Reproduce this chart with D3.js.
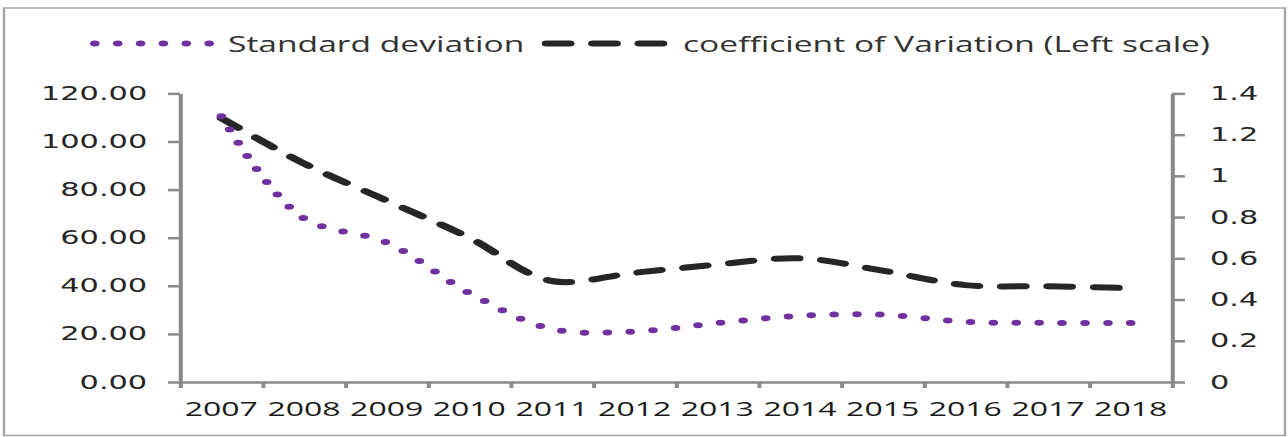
<!DOCTYPE html>
<html>
<head>
<meta charset="utf-8">
<script src="https://cdn.jsdelivr.net/npm/d3@7/dist/d3.min.js"></script>
<style>
  html, body { margin: 0; padding: 0; background: #fff; }
  svg { display: block; }
</style>
</head>
<body>
<svg id="chart"></svg>
<script>
// ---------- data ----------
const years = ["2007","2008","2009","2010","2011","2012","2013","2014","2015","2016","2017","2018"];
const stdDev = [110.5, 68, 58, 37, 22, 21, 24.5, 27.5, 28, 25, 24.6, 24.5];
const coefVar = [1.28, 1.06, 0.88, 0.70, 0.49, 0.53, 0.57, 0.60, 0.54, 0.47, 0.465, 0.455];
const leftTicks = [0, 20, 40, 60, 80, 100, 120];
const rightTicks = [0, 0.2, 0.4, 0.6, 0.8, 1, 1.2, 1.4];
const legendLabels = ["Standard deviation", "coefficient of Variation (Left scale)"];

// ---------- layout (native units; picture is stretched horizontally) ----------
const STRETCH = 1.6;
const OUT_W = 1288, OUT_H = 437;
const W = OUT_W / STRETCH, H = OUT_H;

const svg = d3.select("#chart")
  .attr("width", OUT_W).attr("height", OUT_H)
  .attr("viewBox", `0 0 ${W} ${H}`)
  .attr("preserveAspectRatio", "none");

const plot = { left: 180 / STRETCH, right: 1172 / STRETCH, top: 93.4, bottom: 382 };
const axisColor = "#898989";
const textColor = "#262626";

// border
svg.append("rect")
  .attr("x", 2.5).attr("y", 8)
  .attr("width", 1285 / STRETCH - 2.5).attr("height", 427.5)
  .attr("fill", "none").attr("stroke", "#a6a6a6").attr("stroke-width", 1.5);

// scales
const x = d3.scaleBand().domain(years).range([plot.left, plot.right]).padding(0);
const xEdge = d3.scaleLinear().domain([0, years.length]).range([plot.left, plot.right]);
const yL = d3.scaleLinear().domain([0, 120]).range([plot.bottom, plot.top]);
const yR = d3.scaleLinear().domain([0, 1.4]).range([plot.bottom, plot.top]);

function styleAxis(g, font, size) {
  g.selectAll("path, line").attr("stroke", axisColor).attr("stroke-width", 2.5);
  g.selectAll("text").attr("fill", textColor)
    .style("font-family", font).style("font-size", size + "px");
}

// left axis
const gL = svg.append("g").attr("transform", `translate(${plot.left},0)`)
  .call(d3.axisLeft(yL).tickValues(leftTicks).tickFormat(d3.format(".2f"))
    .tickSize(7.5).tickSizeOuter(0).tickPadding(13));
styleAxis(gL, "'DejaVu Sans', Verdana, sans-serif", 19);

// right axis
const gR = svg.append("g").attr("transform", `translate(${plot.right},0)`)
  .call(d3.axisRight(yR).tickValues(rightTicks).tickFormat(d => String(+d.toFixed(1)))
    .tickSize(8.1).tickSizeOuter(0).tickPadding(15.6));
styleAxis(gR, "'DejaVu Sans', Verdana, sans-serif", 19);

// x axis: tick marks at category boundaries
const gXT = svg.append("g").attr("transform", `translate(0,${plot.bottom})`)
  .call(d3.axisBottom(xEdge).tickValues(d3.range(years.length + 1)).tickFormat("")
    .tickSize(6).tickSizeOuter(0));
styleAxis(gXT, "'Open Sans', sans-serif", 20);

// x axis labels at category centres
const gX = svg.append("g").attr("transform", `translate(0,${plot.bottom})`)
  .call(d3.axisBottom(x).tickSize(0).tickPadding(20));
gX.select(".domain").remove();
styleAxis(gX, "'Open Sans', sans-serif", 20);
gX.selectAll("text").attr("fill", "#1a1a1a");

// lines
const cx = d => x(d) + x.bandwidth() / 2;
const curve = d3.curveCatmullRom.alpha(0.5);

const cvLine = d3.line().x((d, i) => cx(years[i])).y(d => yR(d)).curve(curve);
const sdLine = d3.line().x((d, i) => cx(years[i])).y(d => yL(d)).curve(curve);

const dashStyle = { color: "#262626", width: 6, dash: "14.5 14.5" };
const dotStyle = { color: "#7030A0", width: 6, dash: "0 14.3" };

svg.append("path").datum(coefVar)
  .attr("d", cvLine).attr("fill", "none")
  .attr("stroke", dashStyle.color).attr("stroke-width", dashStyle.width)
  .attr("stroke-linecap", "round").attr("stroke-dasharray", dashStyle.dash);

svg.append("path").datum(stdDev)
  .attr("d", sdLine).attr("fill", "none")
  .attr("stroke", dotStyle.color).attr("stroke-width", dotStyle.width)
  .attr("stroke-linecap", "round").attr("stroke-dasharray", dotStyle.dash);

// legend
const legY = 43.5;
const legend = [
  { label: legendLabels[0], style: dotStyle, x0: 90 / STRETCH, x1: 210 / STRETCH, tx: 228 / STRETCH },
  { label: legendLabels[1], style: dashStyle, x0: 541.7 / STRETCH, x1: 670 / STRETCH, tx: 683 / STRETCH }
];
legend.forEach(l => {
  svg.append("path")
    .attr("d", d3.line()([[l.x0 + l.style.width / 2, legY], [l.x1, legY]]))
    .attr("fill", "none")
    .attr("stroke", l.style.color).attr("stroke-width", l.style.width)
    .attr("stroke-linecap", "round").attr("stroke-dasharray", l.style.dash);
  svg.append("text")
    .attr("x", l.tx).attr("y", 51.7)
    .attr("fill", "#333")
    .style("font-family", "'Open Sans', sans-serif").style("font-size", "21px")
    .text(l.label);
});
</script>
</body>
</html>
